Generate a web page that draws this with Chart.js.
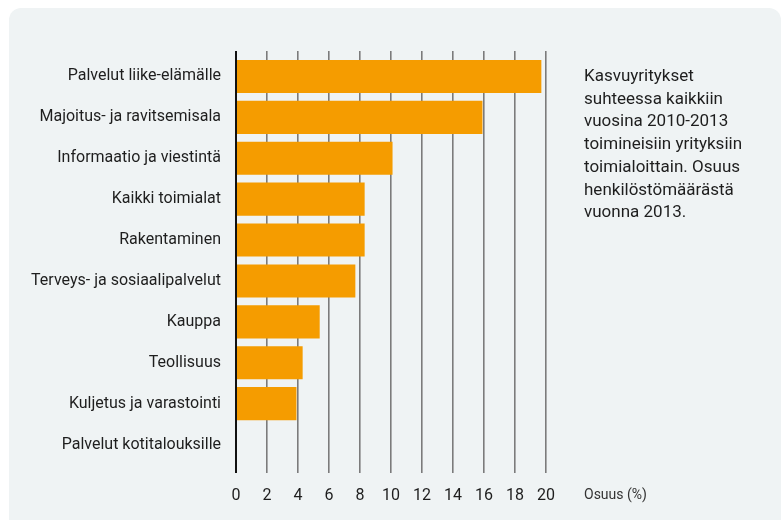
<!DOCTYPE html>
<html>
<head>
<meta charset="utf-8">
<script src="https://cdn.jsdelivr.net/npm/chart.js@4"></script>
<style>
  html, body { margin: 0; padding: 0; background: #ffffff; }
  #wrap { position: relative; width: 784px; height: 520px; overflow: hidden; }
  #panel {
    position: absolute; left: 9px; top: 8px; width: 772px; height: 530px;
    background: #eff3f4; border-radius: 12px;
  }
  #chartBox { position: absolute; left: 0; top: 0; width: 784px; height: 520px; }
  #note {
    position: absolute; left: 584px; top: 64px; width: 190px;
    font-family: Roboto, sans-serif; font-size: 17px; line-height: 22.7px; color: #1e1e1e;
  }
  #axisName {
    position: absolute; left: 584px; top: 486px;
    font-family: Roboto, sans-serif; font-size: 14px; color: #333;
  }
</style>
</head>
<body>
<div id="wrap">
  <div id="panel"></div>
  <div id="chartBox"><canvas id="myChart" width="784" height="520"></canvas></div>
  <div id="note">Kasvuyritykset suhteessa kaikkiin vuosina 2010-2013 toimineisiin yrityksiin toimialoittain. Osuus henkilöstömäärästä vuonna 2013.</div>
  <div id="axisName">Osuus (%)</div>
</div>
<script>
const categories = [
    'Palvelut liike-elämälle',
    'Majoitus- ja ravitsemisala',
    'Informaatio ja viestintä',
    'Kaikki toimialat',
    'Rakentaminen',
    'Terveys- ja sosiaalipalvelut',
    'Kauppa',
    'Teollisuus',
    'Kuljetus ja varastointi',
    'Palvelut kotitalouksille'
];

const shareValues = [19.7, 15.9, 10.1, 8.3, 8.3, 7.7, 5.4, 4.3, 3.9, 0];

const xTickLabels = ['0', '2', '4', '6', '8', '10', '12', '14', '16', '18', '20'];

const BAR_COLOR = '#f59c00';
const GRID_COLOR = '#7b7b7b';

// zero line is black, the rest grey
function gridColor(ctx) {
    return ctx.tick && ctx.tick.value === 0 ? '#111111' : GRID_COLOR;
}
function gridWidth(ctx) {
    return ctx.tick && ctx.tick.value === 0 ? 2 : 1.6;
}

const ctx = document.getElementById('myChart');

new Chart(ctx, {
    type: 'bar',
    data: {
        labels: categories,
        datasets: [{
            label: 'Osuus (%)',
            data: shareValues,
            backgroundColor: BAR_COLOR,
            borderWidth: 0,
            barPercentage: 0.81,
            categoryPercentage: 1
        }]
    },
    options: {
        indexAxis: 'y',
        responsive: false,
        animation: false,
        layout: {
            padding: { left: 0, right: 238, top: 51, bottom: 0 }
        },
        plugins: {
            legend: { display: false },
            tooltip: { enabled: false }
        },
        scales: {
            x: {
                position: 'bottom',
                min: 0,
                max: 20,
                ticks: {
                    stepSize: 2,
                    padding: 13,
                    color: '#1e1e1e',
                    font: { family: 'Roboto', size: 16 },
                    callback: (v, i) => xTickLabels[i]
                },
                grid: {
                    color: gridColor,
                    lineWidth: gridWidth,
                    drawTicks: true,
                    tickLength: 8
                },
                border: { display: false },
                afterFit: (scale) => { scale.height = 55; }
            },
            x2: {
                position: 'top',
                min: 0,
                max: 20,
                ticks: { stepSize: 2, display: false },
                grid: {
                    color: gridColor,
                    lineWidth: gridWidth,
                    drawOnChartArea: false,
                    drawTicks: true,
                    tickLength: 5
                },
                border: { display: false },
                afterFit: (scale) => { scale.height = 5; }
            },
            y: {
                ticks: {
                    padding: 15,
                    color: '#1e1e1e',
                    font: { family: 'Roboto', size: 16 }
                },
                grid: { display: false, drawTicks: false },
                border: { display: false },
                afterFit: (scale) => { scale.width = 236; }
            }
        }
    }
});
</script>
</body>
</html>
